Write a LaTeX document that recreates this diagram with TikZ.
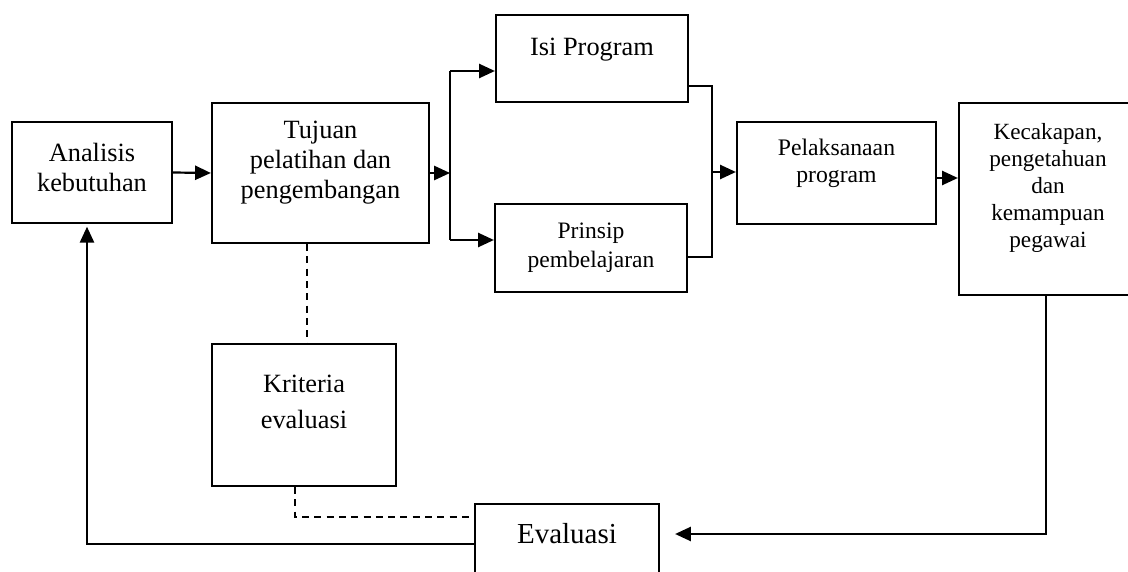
\documentclass[tikz,border=0pt]{standalone}
\usepackage{fontspec}
\setmainfont{Liberation Serif}
\usetikzlibrary{arrows.meta}

\begin{document}
\begin{tikzpicture}[
	kotak/.style={draw, line width=1.25pt, align=center, inner sep=0pt},
	besar/.style={font=\fontsize{15}{17}\selectfont},
	kecil/.style={font=\fontsize{13.5}{15.4}\selectfont},
	panah/.style={-{Triangle[length=9pt,width=8pt]}, line width=1.25pt},
	garis/.style={line width=1.25pt},
	putus/.style={dash pattern=on 4pt off 3pt, line width=1pt}
]

	\useasboundingbox (0,0) rectangle (22.56,11.42);

	\node[kotak, besar, minimum width=3.20cm, minimum height=2.02cm, text depth=0.2cm] (analisis) at (1.84,7.97) {Analisis\\kebutuhan};
	\node[kotak, besar, minimum width=4.34cm, minimum height=2.80cm, text depth=0.52cm] (tujuan) at (6.41,7.96) {Tujuan\\pelatihan dan\\pengembangan};
	\node[kotak, besar, minimum width=3.84cm, minimum height=1.74cm, text depth=0.48cm] (isi) at (11.84,10.25) {Isi Program};
	\node[kotak, font=\fontsize{13.4}{16.5}\selectfont, minimum width=3.84cm, minimum height=1.76cm] (prinsip) at (11.82,6.46) {Prinsip\\pembelajaran};
	\node[kotak, kecil, minimum width=3.98cm, minimum height=2.04cm, text depth=0.5cm] (pelaksanaan) at (16.73,7.96) {Pelaksanaan\\program};
	\node[kotak, font=\fontsize{13.2}{15.4}\selectfont, minimum width=3.56cm, minimum height=3.84cm, text depth=0.54cm] (kecakapan) at (20.96,7.44) {Kecakapan,\\pengetahuan\\dan\\kemampuan\\pegawai};
	\node[kotak, font=\fontsize{15}{20.5}\selectfont, minimum width=3.68cm, minimum height=2.84cm, text depth=0.52cm] (kriteria) at (6.08,3.12) {Kriteria\\evaluasi};
	\node[kotak, font=\fontsize{16.5}{19}\selectfont, minimum width=3.68cm, minimum height=1.60cm, text depth=0.44cm] (evaluasi) at (11.34,0.54) {Evaluasi};

	\coordinate (cabang) at (9.00,7.96);
	\coordinate (cabang1) at (9.00,10.00);
	\coordinate (cabang2) at (9.00,6.62);
	\coordinate (gabung) at (14.24,7.98);
	\coordinate (gabung1) at (14.24,9.70);
	\coordinate (gabung2) at (14.24,6.28);

	\draw[panah] (analisis.east) -- (tujuan.west);
	\draw[panah] (tujuan.east) -- (cabang);
	\draw[garis] (cabang1) -- (cabang2);
	\draw[panah] (cabang1) -- (cabang1 -| isi.west);
	\draw[panah] (cabang2) -- (cabang2 -| prinsip.west);
	\draw[garis] (gabung1 -| isi.east) -- (gabung1) -- (gabung2) -- (gabung2 -| prinsip.east);
	\draw[panah] (gabung) -- (gabung -| pelaksanaan.west);
	\draw[panah] ([yshift=-0.1cm]pelaksanaan.east) -- ([yshift=-0.1cm]pelaksanaan.east -| kecakapan.west);
	\draw[panah, shorten >=0.3cm] ([xshift=-0.04cm]kecakapan.south) |- ([yshift=0.2cm]evaluasi.east);
	\draw[panah, shorten >=1.5pt] (evaluasi.west) -| ([xshift=-0.1cm]analisis.south);

	\draw[putus] ([xshift=-0.27cm]tujuan.south) -- ([xshift=-0.27cm]tujuan.south |- kriteria.north);
	\draw[putus] ([xshift=-0.18cm]kriteria.south) |- ([yshift=0.54cm]evaluasi.west);

\end{tikzpicture}
\end{document}
